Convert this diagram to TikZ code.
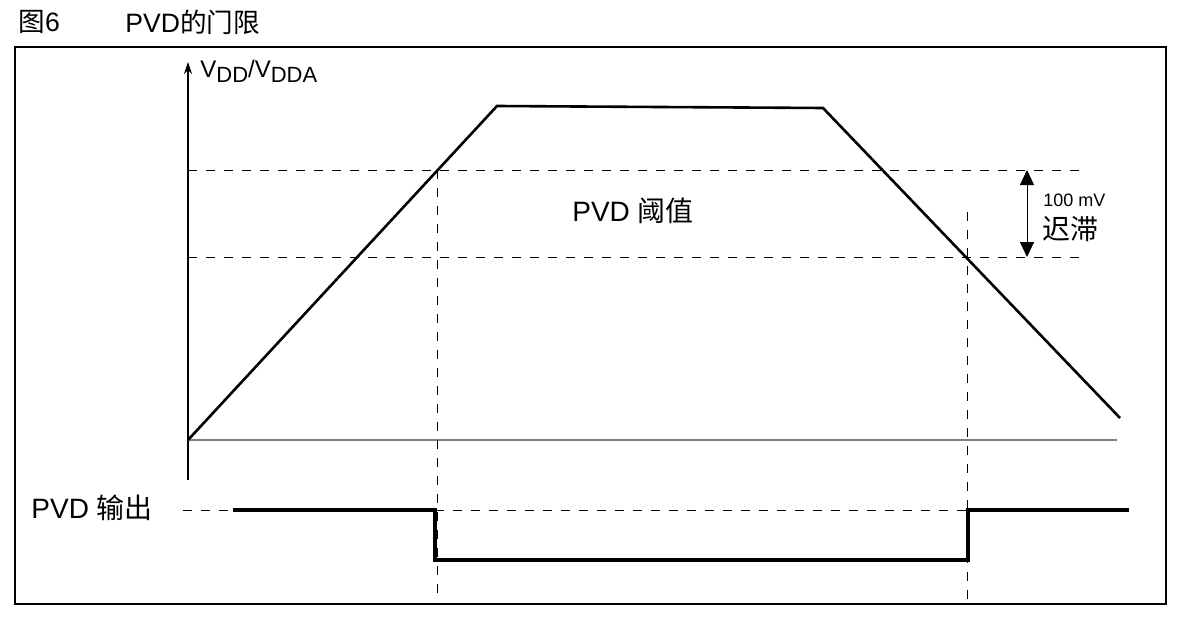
\documentclass[tikz,border=0pt]{standalone}
\usepackage{fontspec}
\setmainfont{Liberation Sans}
\newfontfamily\cjk{Noto Sans CJK SC}
\usetikzlibrary{arrows.meta, positioning}

\newcommand{\lowsub}[1]{\raisebox{-2.2pt}{\fontsize{11}{12}\selectfont #1}}

\begin{document}
\begin{tikzpicture}[
  x=0.5pt, y=-0.5pt,
  frame/.style={draw, line width=0.8pt},
  axis/.style={line width=0.6pt},
  signal/.style={line width=1.3pt, line join=miter},
  outp/.style={line width=2pt},
  guide/.style={dash pattern=on 4.5pt off 4.5pt, line width=0.5pt},
  lbl/.style={font=\fontsize{13.3}{15}\selectfont, inner sep=0pt},
  big/.style={font=\fontsize{14}{16}\selectfont, inner sep=0pt},
  small/.style={font=\fontsize{9}{11}\selectfont, inner sep=0pt, anchor=west}
]

\useasboundingbox (0,0) rectangle (1182,626);

%
%  Layout (pixels, y downwards):
%
%  y  22 : title
%  y 170 : upper threshold      y 257 : lower threshold
%  y 440 : time axis            y 510 / 560 : PVD output
%

% --- Title ---
\node[lbl, anchor=west] (fig)   at (18, 22)  {{\cjk 图}6};
\node[lbl, anchor=west] (title) at (125, 22) {PVD{\cjk 的门限}};

% --- Frame ---
\draw[frame] (15,47) rectangle (1166,604);

% --- Axes ---
\coordinate (orig) at (188,440);
\coordinate (ytop) at (188,62);
\coordinate (ybot) at (188,480);
\coordinate (xend) at (1117,440);
\draw[axis, -{Stealth[length=6pt, width=4pt]}] (ybot) -- (ytop);
\draw[axis, gray] (orig) -- (xend);
\node[font=\fontsize{12}{14}\selectfont, inner sep=0pt, anchor=base west]
      (vdd) at (200,78) {V\lowsub{DD}/V\lowsub{DDA}};

% --- Supply ramp ---
\coordinate (rise) at (497,106);
\coordinate (fall) at (823,108);
\coordinate (low)  at (1120,418);
\draw[signal] (orig) -- (rise) -- (fall) -- (low);

% --- Thresholds ---
\coordinate (hi-l) at (188,170);
\coordinate (hi-r) at (1088,170);
\coordinate (lo-l) at (188,257);
\coordinate (lo-r) at (1088,257);
\draw[guide] (hi-l) -- (hi-r);
\draw[guide] (lo-l) -- (lo-r);
\node[big] (thr) at (633,211) {PVD {\cjk 阈值}};

% crossing markers
\coordinate (up-t) at (437,170);
\coordinate (up-b) at (437,600);
\coordinate (dn-t) at (967,212);
\coordinate (dn-b) at (967,600);
\draw[guide] (up-t) -- (up-b);
\draw[guide] (dn-t) -- (dn-b);

% --- Hysteresis ---
\coordinate (hys-t) at (1027,170);
\coordinate (hys-b) at (1027,257);
\draw[line width=0.5pt, {Triangle[length=7.5pt, width=7pt]}-{Triangle[length=7.5pt, width=7pt]}]
      (hys-t) -- (hys-b);
\node[small] (mv)  at (1043,200) {100 mV};
\node[big, anchor=west] (hys) at (1042,229) {\cjk 迟滞};

% --- PVD output ---
\node[big, anchor=west] (outlbl) at (31,508) {PVD {\cjk 输出}};
\coordinate (out-dash) at (183,510);
\coordinate (out-on)   at (233,510);
\coordinate (out-hl)   at (435,510);
\coordinate (out-ll)   at (435,560);
\coordinate (out-lr)   at (968,560);
\coordinate (out-hr)   at (968,510);
\coordinate (out-end)  at (1129,510);
\draw[guide] (out-dash) -- (out-on);
\draw[guide] (out-hl) -- (out-hr);
\draw[outp] (out-on) -- (out-hl) -- (out-ll) -- (out-lr) -- (out-hr) -- (out-end);

\end{tikzpicture}
\end{document}
